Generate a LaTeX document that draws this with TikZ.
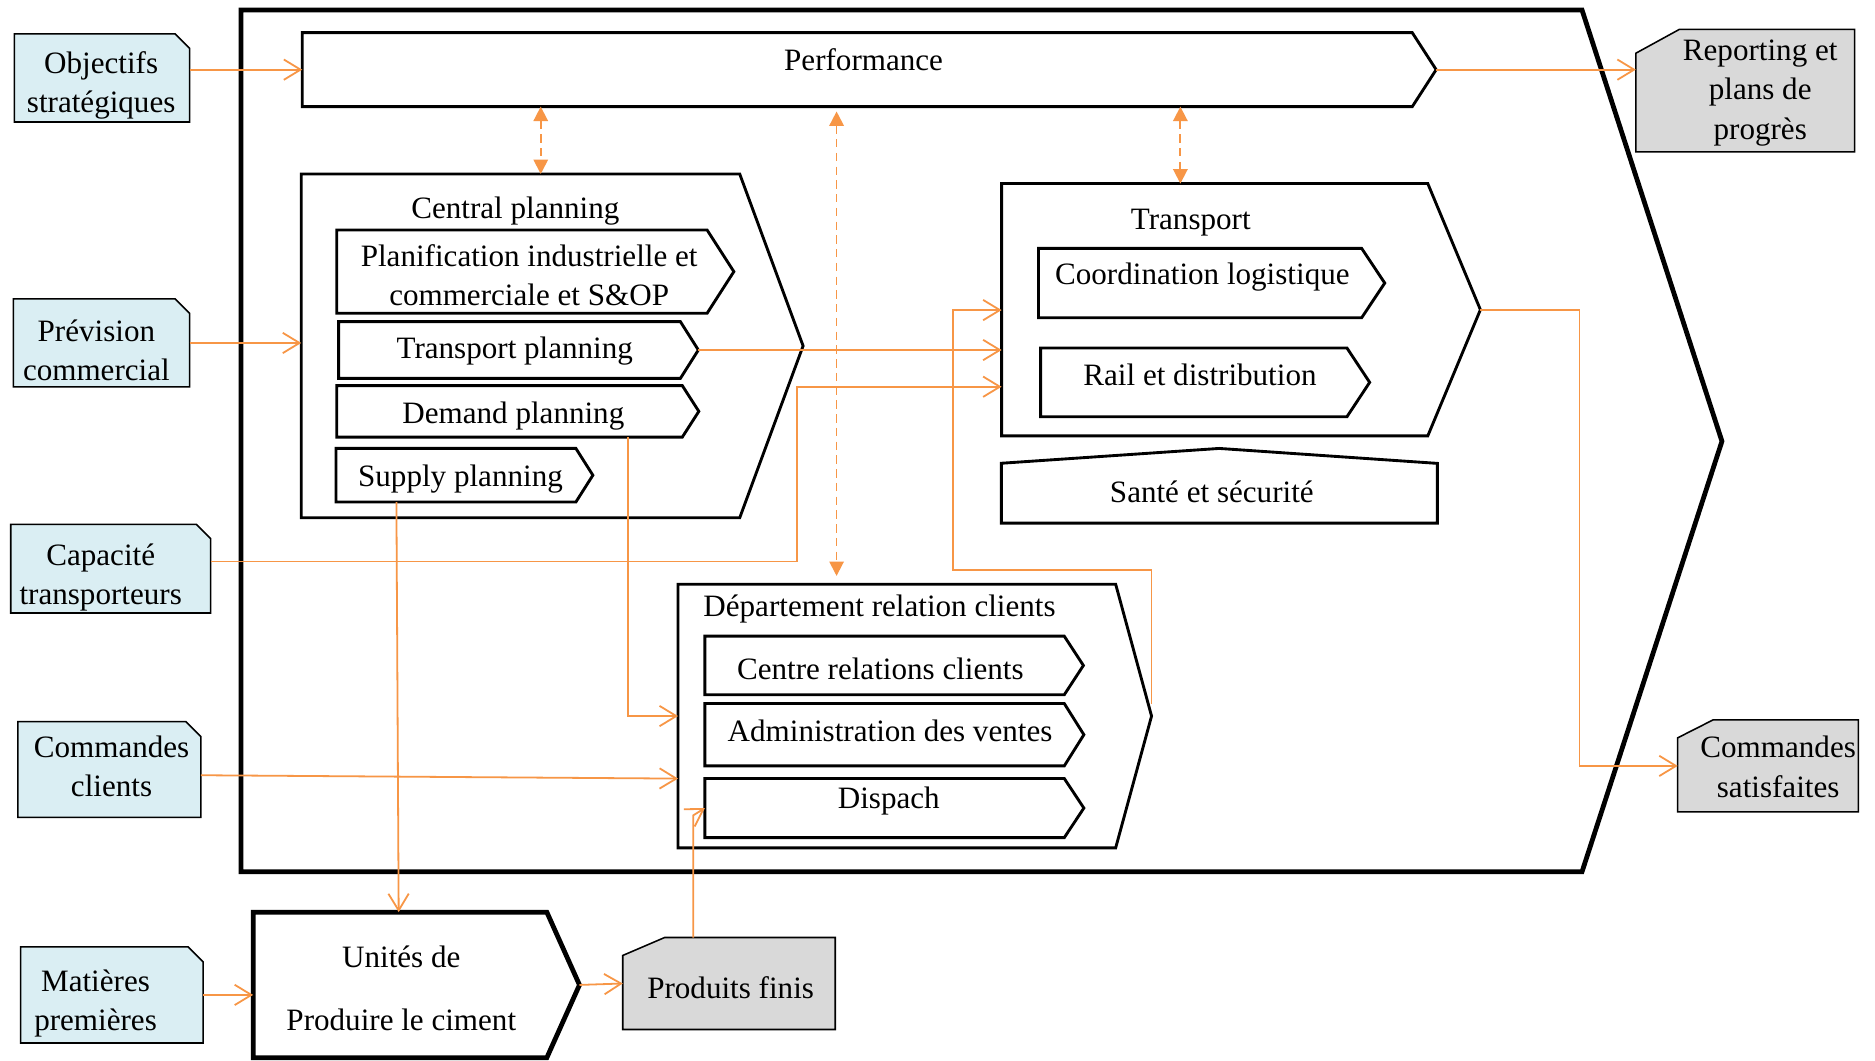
\documentclass[tikz,border=0pt]{standalone}
\usepackage{fontspec}
\setmainfont{Liberation Serif}
\usetikzlibrary{arrows.meta,calc}
\definecolor{flow}{HTML}{F79646}
\definecolor{inputfill}{HTML}{DAEEF3}
\definecolor{outputfill}{HTML}{D9D9D9}

% process chevron: #1 style, #2 name, #3 left, #4 top, #5 flat width, #6 height, #7 point length
\newcommand\processbox[7]{%
  \node[frame node, minimum width=#5pt, minimum height=#6pt, anchor=north west] (#2) at (#3,#4) {};
  \coordinate (#2-tip) at ([xshift=#7pt]#2.east);
  \draw[#1] (#2.north west) -- (#2.north east) -- (#2-tip) -- (#2.south east) -- (#2.south west) -- cycle;
}
% input document, corner cut at top right: #1 name, #2 left, #3 top, #4 width, #5 height, #6 cut
\newcommand\inputdoc[6]{%
  \node[frame node, minimum width=#4pt, minimum height=#5pt, anchor=north west] (#1) at (#2,#3) {};
  \draw[indoc] (#1.north west) -- ([xshift=-#6pt]#1.north east) -- ([yshift=-#6pt]#1.north east) -- (#1.south east) -- (#1.south west) -- cycle;
}
% output document, corner cut at top left: #1 name, #2 left, #3 top, #4 width, #5 height, #6 cut x, #7 cut y
\newcommand\outputdoc[7]{%
  \node[frame node, minimum width=#4pt, minimum height=#5pt, anchor=north west] (#1) at (#2,#3) {};
  \draw[outdoc] ([xshift=#6pt]#1.north west) -- (#1.north east) -- (#1.south east) -- (#1.south west) -- ([yshift=-#7pt]#1.north west) -- cycle;
}

\begin{document}
\begin{tikzpicture}[x=1pt, y=-1pt,
  font=\fontsize{26}{33}\selectfont,
  frame node/.style={inner sep=0pt, outer sep=0pt},
  txt/.style={align=center, inner sep=0pt},
  stage/.style={draw=black, line width=2.4pt, line join=miter, fill=white},
  major/.style={draw=black, line width=4pt, line join=miter, fill=white},
  indoc/.style={draw=black, line width=1.3pt, line join=miter, fill=inputfill},
  outdoc/.style={draw=black, line width=1.3pt, line join=miter, fill=outputfill},
  flowline/.style={draw=flow, line width=1.5pt, -{Straight Barb[length=14pt,width=17pt]}},
  link/.style={draw=flow, line width=1.5pt, dash pattern=on 7pt off 4.5pt,
    {Triangle[length=12pt,width=12pt]}-{Triangle[length=12pt,width=12pt]}}]

\useasboundingbox (0,0) rectangle (1568,887);

% supply chain frame
\draw[major] (201.6,8.4) -- (1323,8.4) -- (1440,369) -- (1323,729) -- (201.6,729) -- cycle;

% processes
\processbox{stage}{perf}{252.8}{27.3}{928.2}{61.9}{20}
\processbox{stage}{cp}{251.9}{145.5}{366.7}{287.5}{53}
\processbox{stage}{pic}{281.6}{192.3}{309.7}{69.7}{22.4}
\processbox{stage}{tp}{283.2}{269}{285.8}{47.4}{15}
\processbox{stage}{dp}{281.6}{322.5}{289}{43}{13.8}
\processbox{stage}{sp}{281}{375}{200.6}{44.8}{14.2}
\processbox{stage}{tr}{837.6}{153.5}{356.4}{211}{44}
\processbox{stage}{cl}{868.4}{207.7}{270.3}{58}{19.3}
\processbox{stage}{rd}{870.2}{291}{256.2}{57.5}{19}
\processbox{stage}{drc}{567}{488.6}{366}{220.4}{30}
\processbox{stage}{crc}{589.5}{532}{300.5}{49}{16}
\processbox{stage}{adv}{589.5}{588.3}{300.5}{52.2}{16.4}
\processbox{stage}{dis}{589.5}{651}{300.5}{49.5}{16.4}
\processbox{major}{prod}{211.7}{762.8}{245.6}{121.7}{27.3}

% health and safety support block
\draw[stage] (837.4,387.4) -- (1019.6,375) -- (1202,387.5) -- (1202,437.5) -- (837.4,437.5) -- cycle;

% inputs and outputs
\inputdoc{obj}{12}{28.4}{146.6}{73.6}{12}
\inputdoc{prev}{11.2}{250}{147.4}{73.6}{12}
\inputdoc{cap}{9}{438.5}{167.2}{74.1}{12}
\inputdoc{cmd}{15}{603.5}{153}{80.1}{12.5}
\inputdoc{mp}{17.2}{791.8}{152.6}{80.4}{12.5}
\outputdoc{rep}{1368}{24.5}{183}{102.5}{36.5}{20}
\outputdoc{cs}{1403}{602}{151}{77}{29.6}{15}
\outputdoc{pf}{520.8}{784}{177.7}{76.9}{35}{15}

% routing helpers
\coordinate (xa) at (452.2,0);
\coordinate (xb) at (699.6,0);
\coordinate (xc) at (987.1,0);
\coordinate (xd) at (525.3,0);
\coordinate (xs1) at (331.5,0);
\coordinate (xs2) at (333.4,0);
\coordinate (xcs) at (1320.8,0);
\coordinate (capbend) at (666.5,469.6);
\coordinate (trlow) at (0,323.4);
\coordinate (drcbend) at (797,476.6);
\coordinate (trhigh) at (0,259.3);
\coordinate (cmdin) at (0,651.1);
\coordinate (pfup) at (579.8,681.8);

% information links with performance
\draw[link] (xa |- perf.south) -- (xa |- cp.north);
\draw[link, shorten <=4pt, shorten >=7pt] (xb |- perf.south) -- (xb |- drc.north);
\draw[link] (xc |- perf.south) -- (xc |- tr.north);

% flows
\draw[flowline] (obj.east |- perf.west) -- (perf.west);
\draw[flowline] (prev.east) -- (prev.east -| cp.west);
\draw[flowline] (perf-tip) -- (perf-tip -| rep.west);
\draw[flowline] (tp-tip) -- (tp-tip -| tr.west);
\draw[flowline] (cap.east |- capbend) -- (capbend) |- (tr.west |- trlow);
\draw[flowline] ([yshift=10pt]drc-tip) |- (drcbend) |- (tr.west |- trhigh);
\draw[flowline] (xd |- dp.south) |- (drc.west);
\draw[flowline] ([yshift=-4.75pt]cmd.east) -- (drc.west |- cmdin);
\draw[flowline] (xs1 |- sp.south) -- (xs2 |- prod.north);
\draw[flowline] (mp.east) -- (mp.east -| prod.west);
\draw[flowline] (prod-tip) -- (pf.west);
\draw[flowline] (pfup |- pf.north) -- (pfup) -- (dis.west);
\draw[flowline] (tr-tip) -| (xcs |- cs.west) -- (cs.west);

% labels
\node[txt] (t-perf) at (722.2,52.5) {\strut Performance};
\node[txt] (t-obj) at (84.6,71.2) {\strut Objectifs\\stratégiques\strut};
\node[txt] (t-prev) at (80.6,295.2) {\strut Prévision\\commercial\strut};
\node[txt] (t-cap) at (84.2,482.5) {\strut Capacité\\transporteurs\strut};
\node[txt] (t-cmd) at (93.3,643.1) {\strut Commandes\\clients\strut};
\node[txt] (t-mp) at (79.9,838.8) {\strut Matières\\premières\strut};
\node[txt] (t-prod) at (335.6,828.6) {\strut Unités de\\[19.9pt]Produire le ciment\strut};
\node[txt] (t-rep) at (1472,77) {\strut Reporting et\\plans de\\progrès\strut};
\node[txt] (t-cs) at (1487,643.7) {\strut Commandes\\satisfaites\strut};
\node[txt] (t-pf) at (611,828.6) {\strut Produits finis};
\node[txt] (t-cp) at (431,176) {\strut Central planning};
\node[txt] (t-pic) at (442.5,232.4) {\strut Planification industrielle et\\commerciale et S\&OP\strut};
\node[txt] (t-tp) at (430.5,293.1) {\strut Transport planning};
\node[txt] (t-dp) at (429.3,347.3) {\strut Demand planning};
\node[txt] (t-sp) at (385.1,400.2) {\strut Supply planning};
\node[txt] (t-tr) at (995.8,185.7) {\strut Transport};
\node[txt] (t-cl) at (1005.5,231.7) {\strut Coordination logistique};
\node[txt] (t-rd) at (1003.5,315.4) {\strut Rail et distribution};
\node[txt] (t-hs) at (1013.4,413.6) {\strut Santé et sécurité};
\node[txt] (t-drc) at (735.5,508.8) {\strut Département relation clients};
\node[txt] (t-crc) at (736.2,561.3) {\strut Centre relations clients};
\node[txt] (t-adv) at (744.3,613.5) {\strut Administration des ventes};
\node[txt] (t-dis) at (743.3,669.9) {\strut Dispach};
\end{tikzpicture}
\end{document}
